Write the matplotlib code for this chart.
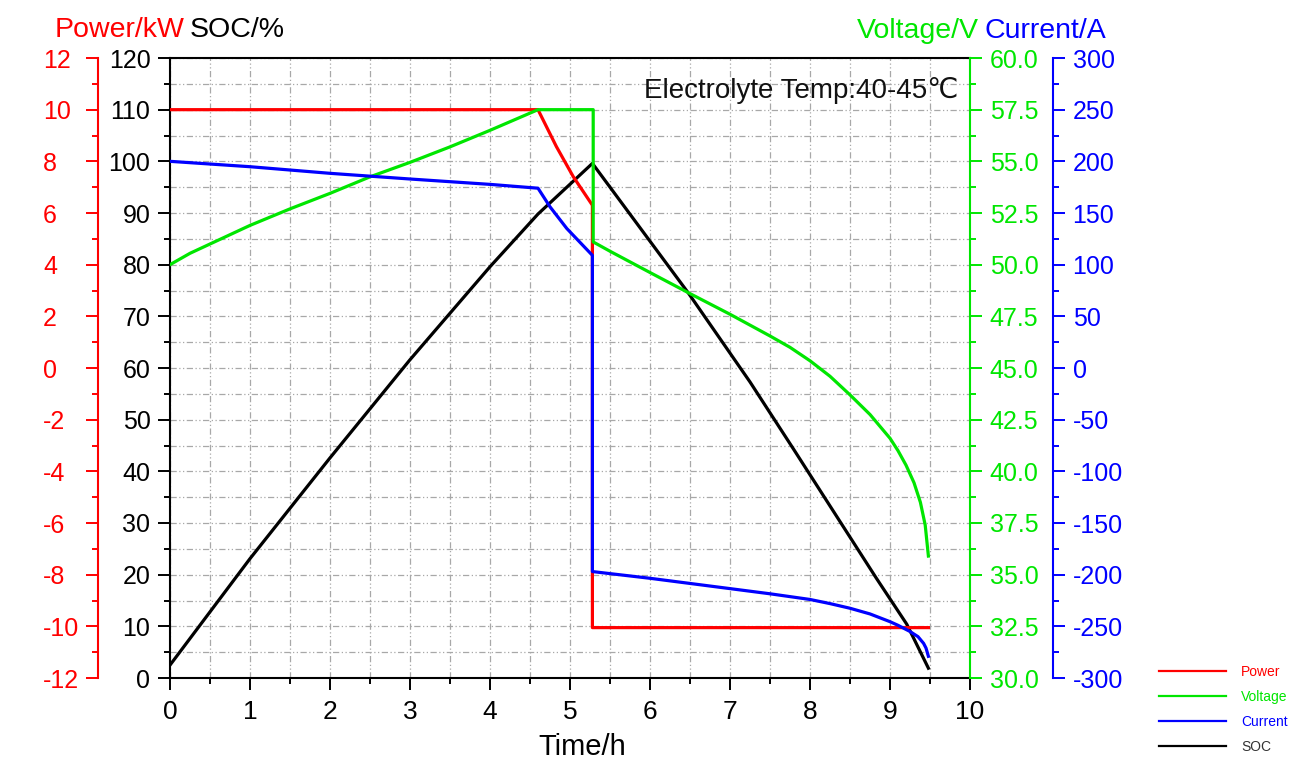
import matplotlib
matplotlib.use("Agg")
import matplotlib.pyplot as plt
from matplotlib.ticker import MultipleLocator, FormatStrFormatter
from matplotlib.lines import Line2D

plt.rcParams['font.family'] = ['Liberation Sans', 'DejaVu Sans']
plt.rcParams['axes.unicode_minus'] = False

# ---------------- data ----------------
power_t = [0, 4.6, 4.83, 5.04, 5.28, 5.28, 9.48]
power_kw = [10, 10, 8.57, 7.41, 6.3, -10.05, -10.05]

volt_t = [0, 0.25, 0.5, 1, 1.5, 2, 2.5, 3, 3.5, 4, 4.6, 5.29, 5.29, 5.5, 6.0, 6.5,
          7.0, 7.5, 7.75, 8.0, 8.25, 8.5, 8.75, 9.0, 9.1, 9.2, 9.3, 9.38, 9.44, 9.48]
volt_v = [50.0, 50.55, 51.0, 51.9, 52.7, 53.45, 54.25, 54.95, 55.7, 56.5, 57.5, 57.5, 51.1,
          50.65, 49.62, 48.6, 47.6, 46.55, 46.0, 45.35, 44.6, 43.7, 42.75, 41.6, 41.0,
          40.3, 39.45, 38.5, 37.4, 35.9]

cur_t = [0, 1, 2, 3, 4, 4.6, 4.75, 4.96, 5.28, 5.28, 6.0, 7.0, 7.5, 8.0, 8.25, 8.5, 8.75,
         9.0, 9.1, 9.25, 9.35, 9.42, 9.45, 9.48]
cur_a = [200, 194.8, 188.4, 182.9, 177.7, 174, 156, 135, 109, -197, -203.5, -213.5, -218.5,
         -224, -228, -232.5, -238, -245.5, -249, -255, -260, -266.5, -271, -279]

soc_t = [0, 1, 2, 3, 4, 4.6, 5.28, 6.48, 7.25, 7.79, 8.83, 9.21, 9.48]
soc_pct = [2.5, 23.1, 42.6, 61.6, 79.6, 89.8, 99.6, 74.5, 57.3, 44.4, 19.3, 10.4, 1.9]

series_names = ['Power', 'Voltage', 'Current', 'SOC']
annotation = 'Electrolyte Temp:40-45\u2103'

RED = '#ff0000'
GREEN = '#00e600'
BLUE = '#0000ff'
BLACK = '#000000'

LW = 2.3
TICK_MAJ = 8.6
TICK_MIN = 4.3
TICK_W = 1.4
LAB = 18

fig = plt.figure(figsize=(12.93, 7.61), dpi=100)
ax = fig.add_axes([170 / 1293, 1 - 678 / 761, 800 / 1293, 620 / 761])

# host: SOC
ax.set_xlim(0, 10)
ax.set_ylim(0, 120)
ax.xaxis.set_major_locator(MultipleLocator(1))
ax.xaxis.set_minor_locator(MultipleLocator(0.5))
ax.yaxis.set_major_locator(MultipleLocator(10))
ax.yaxis.set_minor_locator(MultipleLocator(5))
ax.grid(which='both', color='#a8a8a8', linestyle=(0, (5, 2, 1, 2, 1, 2)), linewidth=0.9)
ax.set_axisbelow(True)
ax.xaxis.set_ticks_position('bottom')
ax.yaxis.set_ticks_position('left')
ax.tick_params(axis='x', which='major', direction='out', length=TICK_MAJ, width=TICK_W,
               labelsize=LAB + 1, pad=7)
ax.tick_params(axis='x', which='minor', direction='out', length=TICK_MIN, width=TICK_W)
ax.tick_params(axis='y', which='major', direction='out', length=TICK_MAJ, width=TICK_W,
               labelsize=LAB, pad=5.5)
ax.tick_params(axis='y', which='minor', direction='out', length=TICK_MIN, width=TICK_W)
for s in ['left', 'top', 'bottom']:
    ax.spines[s].set_linewidth(1.5)
    ax.spines[s].set_color(BLACK)
ax.spines['right'].set_visible(False)
ax.set_xlabel('Time/h', fontsize=21)
ax.xaxis.set_label_coords((582 - 170) / 800, -0.088)
ax.xaxis.label.set_va('top')
l_soc, = ax.plot(soc_t, soc_pct, color=BLACK, lw=LW)

# Power axis (far left, red)
ax_p = ax.twinx()
ax_p.set_ylim(-12, 12)
ax_p.yaxis.set_ticks_position('left')
ax_p.spines['left'].set_position(('axes', -0.09))
for s in ['right', 'top', 'bottom']:
    ax_p.spines[s].set_visible(False)
ax_p.spines['left'].set_visible(True)
ax_p.spines['left'].set_color(RED)
ax_p.spines['left'].set_linewidth(1.5)
ax_p.yaxis.set_major_locator(MultipleLocator(2))
ax_p.yaxis.set_minor_locator(MultipleLocator(1))
ax_p.tick_params(axis='y', which='major', direction='out', length=TICK_MAJ, width=TICK_W,
                 labelsize=LAB, colors=RED, pad=31)
ax_p.tick_params(axis='y', which='minor', direction='out', length=TICK_MIN, width=TICK_W,
                 colors=RED)
l_pow, = ax_p.plot(power_t, power_kw, color=RED, lw=LW)

# Voltage axis (right, green)
ax_v = ax.twinx()
ax_v.set_ylim(30, 60)
for s in ['left', 'top', 'bottom']:
    ax_v.spines[s].set_visible(False)
ax_v.spines['right'].set_color(GREEN)
ax_v.spines['right'].set_linewidth(1.5)
ax_v.yaxis.set_major_locator(MultipleLocator(2.5))
ax_v.yaxis.set_minor_locator(MultipleLocator(1.25))
ax_v.yaxis.set_major_formatter(FormatStrFormatter('%.1f'))
ax_v.tick_params(axis='y', which='major', direction='out', length=TICK_MAJ, width=TICK_W,
                 labelsize=LAB, colors=GREEN, pad=5.5)
ax_v.tick_params(axis='y', which='minor', direction='out', length=TICK_MIN, width=TICK_W,
                 colors=GREEN)
l_volt, = ax_v.plot(volt_t, volt_v, color=GREEN, lw=LW)

# Current axis (far right, blue)
ax_c = ax.twinx()
ax_c.set_ylim(-300, 300)
ax_c.spines['right'].set_position(('axes', (1053 - 170) / 800))
for s in ['left', 'top', 'bottom']:
    ax_c.spines[s].set_visible(False)
ax_c.spines['right'].set_color(BLUE)
ax_c.spines['right'].set_linewidth(1.5)
ax_c.yaxis.set_major_locator(MultipleLocator(50))
ax_c.yaxis.set_minor_locator(MultipleLocator(25))
ax_c.tick_params(axis='y', which='major', direction='out', length=TICK_MAJ, width=TICK_W,
                 labelsize=LAB, colors=BLUE, pad=5.5)
ax_c.tick_params(axis='y', which='minor', direction='out', length=TICK_MIN, width=TICK_W,
                 colors=BLUE)
l_cur, = ax_c.plot(cur_t, cur_a, color=BLUE, lw=LW)

# annotation
ax.text((958 - 170) / 800, (678 - 98) / 620, annotation, fontsize=20, ha='right',
        va='baseline', color='#111111', transform=ax.transAxes)

# header labels
fig.text(55 / 1293, 1 - 37 / 761, 'Power/kW', color=RED, fontsize=20.5, va='baseline')
fig.text(190 / 1293, 1 - 37 / 761, 'SOC/%', color=BLACK, fontsize=20.5, va='baseline')
fig.text(979 / 1293, 1 - 38 / 761, 'Voltage/V', color=GREEN, fontsize=20.5, va='baseline',
         ha='right')
fig.text(985 / 1293, 1 - 38 / 761, 'Current/A', color=BLUE, fontsize=20.5, va='baseline')

# legend
handles = [l_pow, l_volt, l_cur, l_soc]
legend_handles = [Line2D([0], [0], color=h.get_color(), lw=1.6) for h in handles]
fig.legend(legend_handles, series_names, loc='upper left', bbox_to_anchor=(1159 / 1293, 1 - 665 / 761),
           frameon=False, fontsize=10, labelcolor=[RED, GREEN, BLUE, '#333333'],
           handlelength=4.8, handletextpad=1.1, labelspacing=0.8, borderpad=0,
           borderaxespad=0)

# left-align power tick labels (as in the reference)
fig.canvas.draw()
for tk in ax_p.yaxis.get_major_ticks():
    tk.label1.set_horizontalalignment('left')

fig.savefig('out.png', dpi=100)
